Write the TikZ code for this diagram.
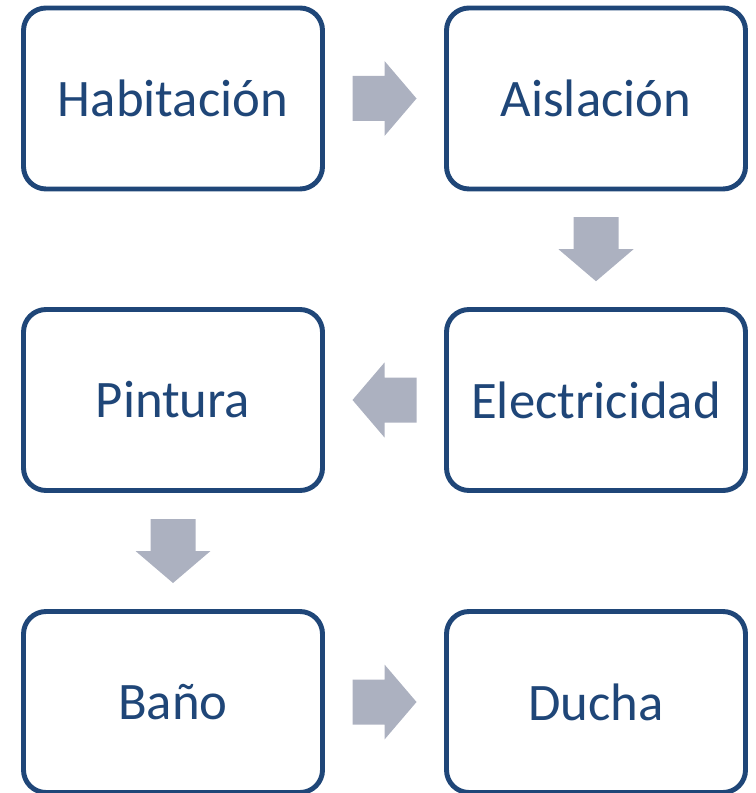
\documentclass[tikz,border=0pt]{standalone}
\usepackage{fontspec}
\setmainfont{Carlito}
\usetikzlibrary{calc}
\definecolor{boxblue}{HTML}{1F4678}
\definecolor{arrowgray}{HTML}{ACB1C0}
\tikzset{
    stepbox/.style={draw=boxblue, line width=2.8pt, rounded corners=0.45cm, fill=white,
        minimum width=5.98cm, minimum height=3.62cm, text=boxblue, font=\fontsize{30}{36}\selectfont},
    blockarrow/.pic={
        \fill[arrowgray] (-0.64,-0.45) -- (0,-0.45) -- (0,-0.75) -- (0.64,0)
            -- (0,0.75) -- (0,0.45) -- (-0.64,0.45) -- cycle;
    }
}
\begin{document}
\begin{tikzpicture}
            \useasboundingbox (0,0) rectangle (15.1,-15.86);
            \node[stepbox] (habitacion) at (3.46,-1.97) {Habitación};
            \node[stepbox] (aislacion) at (11.92,-1.97) {Aislación};
            \node[stepbox] (pintura) at (3.46,-8.0) {Pintura};
            \node[stepbox] (electricidad) at (11.92,-8.0) {Electricidad};
            \node[stepbox] (bano) at (3.46,-14.04) {Baño};
            \node[stepbox] (ducha) at (11.92,-14.04) {Ducha};
            \coordinate (hab-ais) at ($(habitacion.east)!0.5!(aislacion.west)$);
            \coordinate (ais-elec) at ($(aislacion.south)!0.5!(electricidad.north)$);
            \coordinate (elec-pint) at ($(electricidad.west)!0.5!(pintura.east)$);
            \coordinate (pint-bano) at ($(pintura.south)!0.5!(bano.north)$);
            \coordinate (bano-ducha) at ($(bano.east)!0.5!(ducha.west)$);
            \pic at (hab-ais) {blockarrow};
            \pic[rotate=-90] at (ais-elec) {blockarrow};
            \pic[rotate=180] at (elec-pint) {blockarrow};
            \pic[rotate=-90] at (pint-bano) {blockarrow};
            \pic at (bano-ducha) {blockarrow};
    \end{tikzpicture}
\end{document}
